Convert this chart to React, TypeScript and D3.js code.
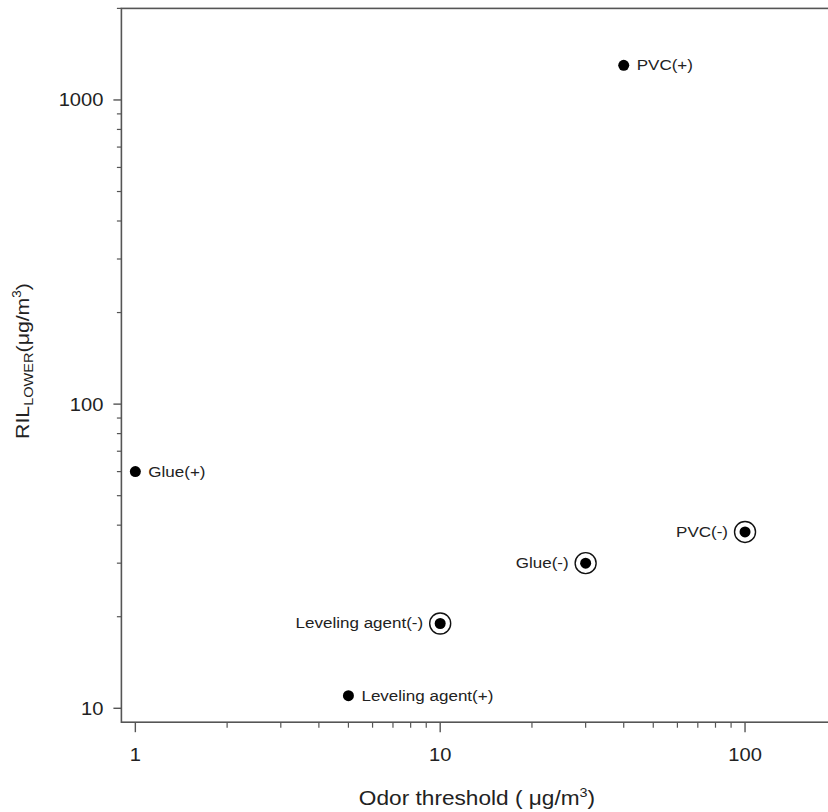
import React from "react";
import * as d3 from "d3";

// Odor threshold vs. lower reference limit for each material
const materials = ["PVC(+)", "Glue(+)", "PVC(-)", "Glue(-)", "Leveling agent(-)", "Leveling agent(+)"];
const odorThreshold = [40, 1, 100, 30, 10, 5];
const rilLower = [1300, 60, 38, 30, 19, 11];
const circled = [false, false, true, true, true, false];

const xTickLabels = ["1", "10", "100"];
const yTickLabels = ["10", "100", "1000"];

const W = 828;
const H = 812;
const SX = 1.15; // horizontal stretch applied to text

const x = d3.scaleLog().domain([0.9, 200]).range([121.4, 836.8]);
const y = d3.scaleLog().domain([9, 2000]).range([722.2, 8.4]);

const minorX = [2, 3, 4, 5, 6, 7, 8, 9, 20, 30, 40, 50, 60, 70, 80, 90];
const minorY = [20, 30, 40, 50, 60, 70, 80, 90, 200, 300, 400, 500, 600, 700, 800, 900, 2000];

const AXIS = "#555";
const TEXT = "#222";
const FONT = "'Liberation Sans', Arial, sans-serif";

function SText({ x0, y0, anchor, size, children }: any) {
  return (
    <g transform={`translate(${x0},${y0}) scale(${SX},1)`}>
      <text x={0} y={0} textAnchor={anchor} fontSize={size} fontFamily={FONT} fill={TEXT}>
        {children}
      </text>
    </g>
  );
}

export default function App() {
  const [x0, x1] = x.range();
  const [yb, yt] = y.range();
  return (
    <svg
      width={W}
      height={H}
      style={{ position: "absolute", left: 0, top: 0, background: "#fff" }}
    >
      {/* frame */}
      <rect x={x0} y={yt} width={x1 - x0} height={yb - yt} fill="none" stroke={AXIS} strokeWidth={1.6} />

      {/* x ticks */}
      {xTickLabels.map((t) => (
        <g key={"xt" + t}>
          <line x1={x(+t)} x2={x(+t)} y1={yb} y2={yb + 10} stroke={AXIS} strokeWidth={1.4} />
          <SText x0={x(+t)} y0={yb + 39} anchor="middle" size={17.5}>
            {t}
          </SText>
        </g>
      ))}
      {minorX.map((v) => (
        <line key={"xm" + v} x1={x(v)} x2={x(v)} y1={yb} y2={yb + 5.5} stroke={AXIS} strokeWidth={1.2} />
      ))}

      {/* y ticks */}
      {yTickLabels.map((t) => (
        <g key={"yt" + t}>
          <line x1={x0} x2={x0 - 8} y1={y(+t)} y2={y(+t)} stroke={AXIS} strokeWidth={1.4} />
          <SText x0={x0 - 18} y0={y(+t) + 6.5} anchor="end" size={17.5}>
            {t}
          </SText>
        </g>
      ))}
      {minorY.map((v) => (
        <line key={"ym" + v} x1={x0} x2={x0 - 4.5} y1={y(v)} y2={y(v)} stroke={AXIS} strokeWidth={1.2} />
      ))}

      {/* axis titles */}
      <SText x0={477} y0={805} anchor="middle" size={19.7}>
        Odor threshold (
        <tspan> μg/m</tspan>
        <tspan dy={-8} fontSize={12.5}>3</tspan>
        <tspan dy={8}>)</tspan>
      </SText>
      <g transform="translate(29,361) rotate(-90)">
        <text x={0} y={0} textAnchor="middle" fontSize={19} fontFamily={FONT} fill={TEXT} transform="scale(1.12,1)">
          RIL
          <tspan dy={4} fontSize={13}>LOWER</tspan>
          <tspan dy={-4}>(μg/m</tspan>
          <tspan dy={-8} fontSize={12}>3</tspan>
          <tspan dy={8}>)</tspan>
        </text>
      </g>

      {/* points */}
      {materials.map((m, i) => {
        const cx = x(odorThreshold[i]);
        const cy = y(rilLower[i]);
        const ring = circled[i];
        return (
          <g key={m}>
            {ring && <circle cx={cx} cy={cy} r={10.5} fill="none" stroke="#111" strokeWidth={1.4} />}
            <circle cx={cx} cy={cy} r={5.5} fill="#000" />
            {ring ? (
              <SText x0={cx - 17} y0={cy + 5} anchor="end" size={14.8}>
                {m}
              </SText>
            ) : (
              <SText x0={cx + 13} y0={cy + 5} anchor="start" size={14.8}>
                {m}
              </SText>
            )}
          </g>
        );
      })}
    </svg>
  );
}
